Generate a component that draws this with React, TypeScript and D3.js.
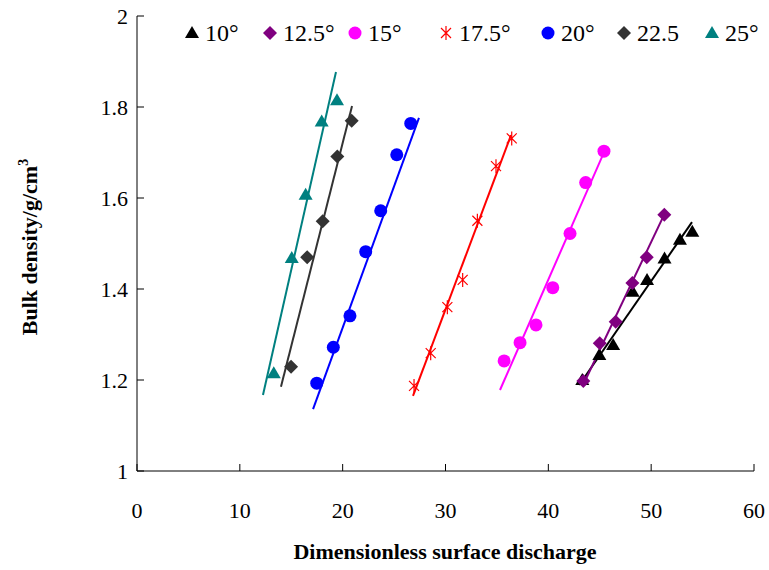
import React from 'react';
import * as d3 from 'd3';

// series labels (slope angle)
const labels = ['10°', '12.5°', '15°', '17.5°', '20°', '22.5', '25°'];
const colors = ['#000000', '#800080', '#ff00ff', '#ff0000', '#0000ff', '#333333', '#008080'];
const markers = ['triangle', 'diamond', 'circle', 'star', 'circle', 'diamond', 'triangle'];

const x10 = [43.3, 44.96, 46.3, 48.2, 49.6, 51.3, 52.8, 54.0];
const y10 = [1.2, 1.255, 1.277, 1.394, 1.42, 1.467, 1.508, 1.526];
const x125 = [43.4, 45.0, 46.55, 48.17, 49.57, 51.28];
const y125 = [1.198, 1.281, 1.328, 1.413, 1.47, 1.563];
const x15 = [35.7, 37.25, 38.8, 40.43, 42.11, 43.63, 45.41];
const y15 = [1.242, 1.282, 1.321, 1.403, 1.522, 1.634, 1.703];
const x175 = [26.94, 28.56, 30.18, 31.67, 33.1, 34.91, 36.44];
const y175 = [1.187, 1.259, 1.36, 1.42, 1.55, 1.67, 1.731];
const x20 = [17.48, 19.09, 20.71, 22.24, 23.7, 25.26, 26.62];
const y20 = [1.193, 1.272, 1.341, 1.482, 1.572, 1.695, 1.764];
const x225 = [14.98, 16.55, 18.06, 19.48, 20.88];
const y225 = [1.229, 1.47, 1.549, 1.691, 1.77];
const x25 = [13.3, 15.05, 16.4, 17.96, 19.45];
const y25 = [1.215, 1.468, 1.607, 1.768, 1.815];

// fitted trend lines (start / end)
const fitX0 = [43.0, 43.4, 35.3, 26.84, 17.12, 14.0, 12.25];
const fitY0 = [1.189, 1.19, 1.178, 1.165, 1.136, 1.185, 1.167];
const fitX1 = [53.97, 51.3, 45.6, 36.37, 27.42, 20.91, 19.35];
const fitY1 = [1.547, 1.565, 1.71, 1.738, 1.776, 1.802, 1.877];

const xTicks = [0, 10, 20, 30, 40, 50, 60];
const yTicks = [1, 1.2, 1.4, 1.6, 1.8, 2];

const seriesX = [x10, x125, x15, x175, x20, x225, x25];
const seriesY = [y10, y125, y15, y175, y20, y225, y25];

const serif = { fontFamily: "'Liberation Serif', 'Times New Roman', serif" };

function Marker({ type, x, y, color }: { type: string; x: number; y: number; color: string }) {
    if (type === 'circle') return <circle cx={x} cy={y} r={6.5} fill={color} />;
    if (type === 'triangle')
        return <path d="M0,-7L7,5L-7,5Z" transform={`translate(${x},${y})`} fill={color} />;
    if (type === 'diamond')
        return <path d="M0,-7L7,0L0,7L-7,0Z" transform={`translate(${x},${y})`} fill={color} />;
    return (
        <path
            d="M-5,-5L5,5M-5,5L5,-5M0,-7L0,7"
            transform={`translate(${x},${y})`}
            stroke={color}
            strokeWidth={1.2}
            fill="none"
        />
    );
}

export default function App() {
    const width = 769;
    const height = 570;

    const xScale = d3.scaleLinear().domain([0, 60]).range([137, 754]);
    const yScale = d3.scaleLinear().domain([1, 2]).range([471, 16]);

    // legend layout
    const legendMarkerX = [192, 270, 355, 446, 548, 624, 712];
    const legendY = 33;

    return (
        <svg
            width={width}
            height={height}
            style={{ position: 'absolute', left: 0, top: 0, background: '#fff', ...serif }}
        >
            {/* axes */}
            <line x1={xScale(0)} x2={xScale(60)} y1={yScale(1)} y2={yScale(1)} stroke="#000" />
            <line x1={xScale(0)} x2={xScale(0)} y1={yScale(1)} y2={yScale(2)} stroke="#000" />
            {xTicks.map(t => (
                <g key={'x' + t}>
                    <line x1={xScale(t)} x2={xScale(t)} y1={yScale(1)} y2={yScale(1) - 7} stroke="#000" />
                    <text x={xScale(t)} y={518} textAnchor="middle" fontSize={22} style={serif}>
                        {t}
                    </text>
                </g>
            ))}
            {yTicks.map(t => (
                <g key={'y' + t}>
                    <line x1={xScale(0)} x2={xScale(0) + 7} y1={yScale(t)} y2={yScale(t)} stroke="#000" />
                    <text x={128} y={yScale(t)} dy="0.35em" textAnchor="end" fontSize={22} style={serif}>
                        {d3.format('~g')(t)}
                    </text>
                </g>
            ))}

            {/* trend lines */}
            {labels.map((l, i) => (
                <line
                    key={'fit' + l}
                    x1={xScale(fitX0[i])}
                    y1={yScale(fitY0[i])}
                    x2={xScale(fitX1[i])}
                    y2={yScale(fitY1[i])}
                    stroke={colors[i]}
                    strokeWidth={2}
                />
            ))}

            {/* points */}
            {labels.map((l, i) => (
                <g key={'pts' + l}>
                    {seriesX[i].map((xv, j) => (
                        <Marker
                            key={j}
                            type={markers[i]}
                            x={xScale(xv)}
                            y={yScale(seriesY[i][j])}
                            color={colors[i]}
                        />
                    ))}
                </g>
            ))}

            {/* legend */}
            {labels.map((l, i) => (
                <g key={'lg' + l}>
                    <Marker type={markers[i]} x={legendMarkerX[i]} y={legendY} color={colors[i]} />
                    <text x={legendMarkerX[i] + 13} y={legendY + 8} fontSize={24} style={serif}>
                        {l}
                    </text>
                </g>
            ))}

            {/* axis titles */}
            <text x={445} y={559} textAnchor="middle" fontSize={22} fontWeight="bold" style={serif}>
                Dimensionless surface discharge
            </text>
            <text
                transform={`translate(37,247) rotate(-90)`}
                textAnchor="middle"
                fontSize={22}
                fontWeight="bold"
                style={serif}
            >
                Bulk density/g/cm<tspan fontSize={14} dy={-9}>3</tspan>
            </text>
        </svg>
    );
}
